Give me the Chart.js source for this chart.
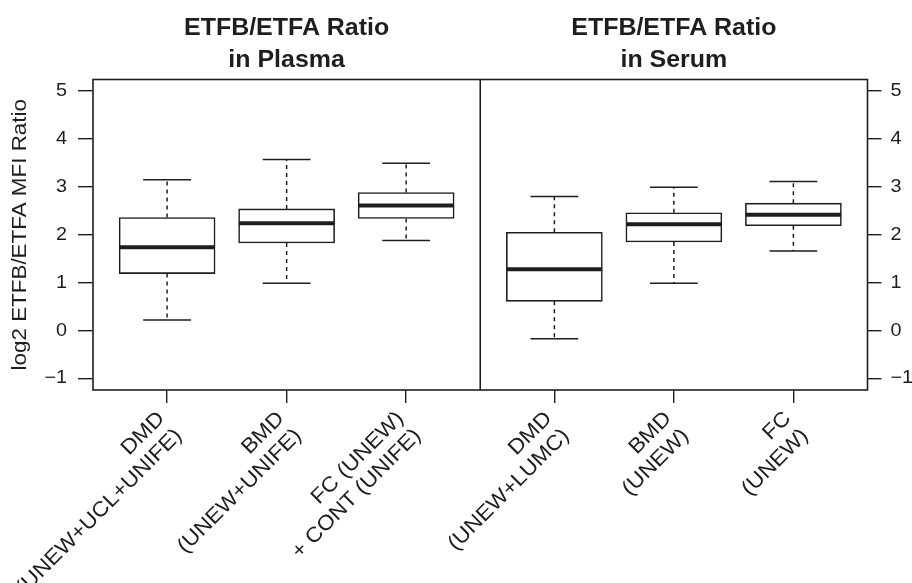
<!DOCTYPE html>
<html><head><meta charset="utf-8">
<script src="https://cdn.jsdelivr.net/npm/chart.js@4.4.1/dist/chart.umd.min.js"></script>
<style>html,body{margin:0;padding:0;background:#fff;} canvas{display:block;}</style>
</head><body>
<canvas id="c" width="912" height="583"></canvas>
<script>
// ---- data ----
const panelTitles = [["ETFB/ETFA Ratio", "in Plasma"], ["ETFB/ETFA Ratio", "in Serum"]];
const categories = [
  ["DMD", "(UNEW+UCL+UNIFE)"],
  ["BMD", "(UNEW+UNIFE)"],
  ["FC (UNEW)", "+ CONT (UNIFE)"],
  ["DMD", "(UNEW+LUMC)"],
  ["BMD", "(UNEW)"],
  ["FC", "(UNEW)"]
];
const panelOf     = [0, 0, 0, 1, 1, 1];
const whiskerLow  = [0.22, 0.99, 1.88, -0.17, 0.99, 1.66];
const q1          = [1.19, 1.83, 2.34, 0.61, 1.85, 2.19];
const median      = [1.74, 2.24, 2.61, 1.28, 2.22, 2.42];
const q3          = [2.36, 2.54, 2.88, 2.05, 2.46, 2.66];
const whiskerHigh = [3.15, 3.57, 3.49, 2.80, 2.99, 3.11];
const yTicks = [-1, 0, 1, 2, 3, 4, 5];
const yAxisTitle = "log2 ETFB/ETFA MFI Ratio";

// ---- layout helpers (R-like panels: xlim 0.5..3.5 extended 4%) ----
const panelWidth = 3 * 1.08;
const xMinVal = 0.5 - 0.12;
const xMaxVal = xMinVal + 2 * panelWidth;
const yMinVal = -1 - 0.24, yMaxVal = 5 + 0.24;
const idxInPanel = panelOf.map((p, i) => panelOf.slice(0, i).filter(q => q === p).length);
const xPos = panelOf.map((p, i) => p * panelWidth + idxInPanel[i] + 1);
const dividerVal = xMinVal + panelWidth;

const INK = '#1e1e1e';
const FONT = "'Liberation Sans', Arial, sans-serif";

function sText(ctx, text, x, y, angle, sx, align, baseline) {
  ctx.save();
  ctx.translate(x, y);
  ctx.rotate(angle);
  ctx.scale(sx, 1);
  ctx.textAlign = align;
  ctx.textBaseline = baseline;
  ctx.fillText(text, 0, 0);
  ctx.restore();
}

const boxPlugin = {
  id: 'boxExtras',
  afterDatasetsDraw(chart) {
    const ctx = chart.ctx, xs = chart.scales.x, ys = chart.scales.y, a = chart.chartArea;
    ctx.save();
    ctx.strokeStyle = INK;
    for (let i = 0; i < xPos.length; i++) {
      const xc = xs.getPixelForValue(xPos[i]);
      const capL = xs.getPixelForValue(xPos[i] - 0.2), capR = xs.getPixelForValue(xPos[i] + 0.2);
      ctx.lineWidth = 1.5;
      ctx.setLineDash([4, 4]);
      ctx.beginPath();
      ctx.moveTo(xc, ys.getPixelForValue(q3[i])); ctx.lineTo(xc, ys.getPixelForValue(whiskerHigh[i]));
      ctx.moveTo(xc, ys.getPixelForValue(q1[i])); ctx.lineTo(xc, ys.getPixelForValue(whiskerLow[i]));
      ctx.stroke();
      ctx.setLineDash([]);
      ctx.beginPath();
      const yh = ys.getPixelForValue(whiskerHigh[i]), yl = ys.getPixelForValue(whiskerLow[i]);
      ctx.moveTo(capL, yh); ctx.lineTo(capR, yh);
      ctx.moveTo(capL, yl); ctx.lineTo(capR, yl);
      ctx.stroke();
      ctx.lineWidth = 4;
      ctx.beginPath();
      const ym = ys.getPixelForValue(median[i]);
      ctx.moveTo(xs.getPixelForValue(xPos[i] - 0.4), ym);
      ctx.lineTo(xs.getPixelForValue(xPos[i] + 0.4), ym);
      ctx.stroke();
    }
    ctx.lineWidth = 1.6;
    ctx.strokeRect(a.left, a.top, a.right - a.left, a.bottom - a.top);
    const xd = xs.getPixelForValue(dividerVal);
    ctx.beginPath(); ctx.moveTo(xd, a.top); ctx.lineTo(xd, a.bottom); ctx.stroke();
    ctx.restore();
  },
  afterDraw(chart) {
    const ctx = chart.ctx, xs = chart.scales.x, ys = chart.scales.y, a = chart.chartArea;
    ctx.save();
    ctx.fillStyle = INK;
    ctx.font = "bold 24px " + FONT;
    panelTitles.forEach((lines, p) => {
      const cx = (xs.getPixelForValue(xMinVal + p * panelWidth) + xs.getPixelForValue(xMinVal + (p + 1) * panelWidth)) / 2;
      sText(ctx, lines[0], cx, 35, 0, 1.04, 'center', 'alphabetic');
      sText(ctx, lines[1], cx, 66.5, 0, 1.04, 'center', 'alphabetic');
    });
    ctx.font = "18px " + FONT;
    yTicks.forEach(v => {
      const y = ys.getPixelForValue(v);
      const t = v < 0 ? '\u2212' + Math.abs(v) : String(v);
      sText(ctx, t, a.left - 26, y, 0, 1.1, 'right', 'middle');
      sText(ctx, t, a.right + 23, y, 0, 1.1, 'left', 'middle');
    });
    ctx.font = "20px " + FONT;
    sText(ctx, yAxisTitle, 26, (a.top + a.bottom) / 2, -Math.PI / 2, 1.12, 'center', 'alphabetic');
    ctx.font = "21px " + FONT;
    const lh = 24.5, k = Math.SQRT1_2;
    categories.forEach((lines, i) => {
      const ax = xs.getPixelForValue(xPos[i]) + 3, ay = a.bottom + 34;
      const n = lines.length;
      lines.forEach((ln, j) => {
        const d = (j - (n - 1) / 2) * lh;
        sText(ctx, ln, ax + d * k, ay + d * k, -Math.PI / 4, 1.08, 'right', 'middle');
      });
    });
    ctx.restore();
  }
};

new Chart(document.getElementById('c'), {
  type: 'bar',
  data: {
    datasets: [{
      data: xPos.map((x, i) => ({ x: x, y: [q1[i], q3[i]] })),
      backgroundColor: '#ffffff',
      borderColor: INK,
      borderWidth: 1.6,
      borderSkipped: false,
      barThickness: 96
    }]
  },
  options: {
    responsive: false,
    animation: false,
    layout: { padding: { top: 79.5, left: 0, right: 0, bottom: 0 } },
    plugins: { legend: { display: false }, tooltip: { enabled: false }, title: { display: false } },
    scales: {
      x: {
        type: 'linear', min: xMinVal, max: xMaxVal, offset: false,
        grid: { offset: false, drawOnChartArea: false, drawTicks: true, tickLength: 13, color: INK, lineWidth: 1.4 },
        border: { display: false },
        ticks: { display: false },
        afterBuildTicks: ax => { ax.ticks = xPos.map(v => ({ value: v })); },
        afterFit: ax => { ax.height = 193; }
      },
      y: {
        type: 'linear', position: 'left', min: yMinVal, max: yMaxVal,
        grid: { drawOnChartArea: false, drawTicks: true, tickLength: 15, color: INK, lineWidth: 1.4 },
        border: { display: false },
        ticks: { display: false },
        afterBuildTicks: ax => { ax.ticks = yTicks.map(v => ({ value: v })); },
        afterFit: ax => { ax.width = 93; }
      },
      y2: {
        type: 'linear', position: 'right', min: yMinVal, max: yMaxVal,
        grid: { drawOnChartArea: false, drawTicks: true, tickLength: 14, color: INK, lineWidth: 1.4 },
        border: { display: false },
        ticks: { display: false },
        afterBuildTicks: ax => { ax.ticks = yTicks.map(v => ({ value: v })); },
        afterFit: ax => { ax.width = 44.5; }
      }
    }
  },
  plugins: [boxPlugin]
});
</script>
</body></html>
